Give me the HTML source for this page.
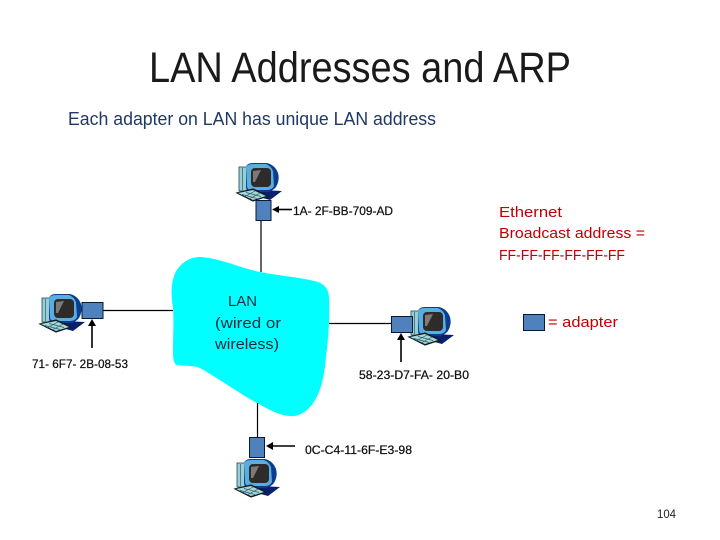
<!DOCTYPE html>
<html>
<head>
<meta charset="utf-8">
<style>
html,body{margin:0;padding:0;background:#fff;width:720px;height:540px;overflow:hidden}
svg{display:block}
text{font-family:"Liberation Sans",sans-serif}
</style>
</head>
<body>
<svg width="720" height="540" viewBox="0 0 720 540" xmlns="http://www.w3.org/2000/svg">
<defs>
<g id="pc">
  <rect x="4" y="4" width="8" height="24" fill="#9ccdd2" stroke="#1d4a5a" stroke-width="0.8"/>
  <line x1="7.5" y1="5" x2="7.5" y2="27" stroke="#2b6f80" stroke-width="0.8"/>
  <path d="M26 27 L47 28 L35 37 L24 34Z" fill="#08206e"/>
  <path d="M11 4 Q12 0 18 0 L32 0 Q40 2 43 10 Q45 17 41 24 Q37 29 31 29 L16 29 Q11 28 11 24Z" fill="#0c3c90"/>
  <path d="M11 4 Q12 1 18 1 L31 1 Q36 3 38 8 L39 23 Q37 27 32 27 L15 27 Q12 26 12 23Z" fill="#58aede"/>
  <rect x="16" y="5" width="20" height="19" rx="4" fill="#2e2b2a"/>
  <path d="M18 8 L26 7 L20 19 L18 19Z" fill="#7d7977"/>
  <path d="M2 30 L18 26 L33 33 L18 38 Z" fill="#0e1c24" stroke="#0e1c24" stroke-width="1.2"/>
  <path d="M3 30 L18 27 L31 33 L18 37Z" fill="#a6d8da"/>
  <path d="M7 31.5 L22 35.5 M11 29.5 L26 33.5 M9 34 L20 28 M15 35.5 L25 30" stroke="#2c5866" stroke-width="0.7" fill="none"/>
</g>
</defs>

<text x="149" y="82" font-size="43" textLength="422" lengthAdjust="spacingAndGlyphs" fill="#1a1a1a">LAN Addresses and ARP</text>
<text x="68" y="125" font-size="18" textLength="368" lengthAdjust="spacingAndGlyphs" fill="#1f3864">Each adapter on LAN has unique LAN address</text>

<path d="M200 257 C220 258 240 268 260 272 C280 276 300 277 318 282 C326 285 329 291 329 298 C330 320 328 340 326 357 C324 380 320 392 314 402 C306 413 298 417 289 416 C278 415 268 409 257 403 C240 394 218 378 200 368 C192 365 182 366 177 365 C173 363 173 358 173 350 C173 335 174 320 173 308 C171 295 171 285 174 276 C178 265 188 257 200 257Z" fill="#00ffff"/>

<g stroke="#000" stroke-width="1.2" fill="none">
  <line x1="261" y1="220" x2="261" y2="272"/>
  <line x1="103" y1="310.5" x2="173" y2="310.5"/>
  <line x1="329" y1="323.5" x2="391" y2="323.5"/>
  <line x1="257.5" y1="403" x2="257.5" y2="437"/>
</g>

<use href="#pc" x="235" y="163"/>
<use href="#pc" x="38" y="294"/>
<use href="#pc" x="407" y="307"/>
<use href="#pc" x="233" y="459"/>

<g fill="#4f81bd" stroke="#0a1a33" stroke-width="1">
  <rect x="256" y="200.5" width="15" height="20"/>
  <rect x="82" y="302.5" width="21" height="16"/>
  <rect x="391.5" y="316.5" width="21" height="16"/>
  <rect x="249.5" y="437.5" width="15" height="20"/>
  <rect x="523.5" y="314.5" width="21" height="16"/>
</g>

<g stroke="#000" stroke-width="1.6" fill="none">
  <line x1="292" y1="209.5" x2="276" y2="209.5"/>
  <line x1="92" y1="348" x2="92" y2="325"/>
  <line x1="401" y1="362" x2="401" y2="339"/>
  <line x1="295" y1="446" x2="271" y2="446"/>
</g>
<g fill="#000">
  <path d="M272 209.5 L279 206 L279 213Z"/>
  <path d="M92 319 L88 326 L96 326Z"/>
  <path d="M401 333 L397 340 L405 340Z"/>
  <path d="M266 446 L273 442 L273 450Z"/>
</g>

<g font-size="12" fill="#111" stroke="#111" stroke-width="0.25">
  <text x="293" y="215" textLength="100" lengthAdjust="spacingAndGlyphs">1A- 2F-BB-709-AD</text>
  <text x="32" y="368" textLength="96" lengthAdjust="spacingAndGlyphs">71- 6F7- 2B-08-53</text>
  <text x="359" y="379" textLength="110" lengthAdjust="spacingAndGlyphs">58-23-D7-FA- 20-B0</text>
  <text x="305" y="454" textLength="107" lengthAdjust="spacingAndGlyphs">0C-C4-11-6F-E3-98</text>
</g>

<g font-size="15" fill="#1a2a3a">
  <text x="228" y="306" textLength="29" lengthAdjust="spacingAndGlyphs">LAN</text>
  <text x="215" y="328" textLength="66" lengthAdjust="spacingAndGlyphs">(wired or</text>
  <text x="215" y="349" textLength="64" lengthAdjust="spacingAndGlyphs">wireless)</text>
</g>

<g font-size="14.5" fill="#c00000">
  <text x="499" y="217" textLength="63" lengthAdjust="spacingAndGlyphs">Ethernet</text>
  <text x="499" y="238" textLength="146" lengthAdjust="spacingAndGlyphs">Broadcast address =</text>
  <text x="499" y="260" textLength="126" lengthAdjust="spacingAndGlyphs">FF-FF-FF-FF-FF-FF</text>
  <text x="548" y="327" textLength="70" lengthAdjust="spacingAndGlyphs">= adapter</text>
</g>

<text x="657" y="518" font-size="12" textLength="19" lengthAdjust="spacingAndGlyphs" fill="#222">104</text>
</svg>
</body>
</html>
